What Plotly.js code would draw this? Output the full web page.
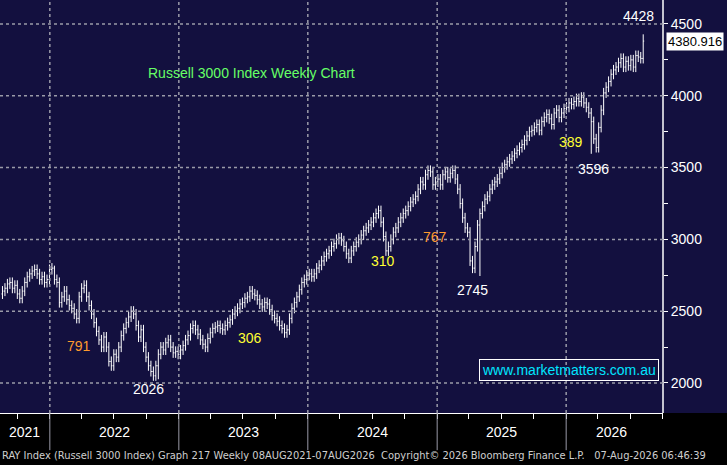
<!DOCTYPE html>
<html>
<head>
<script src="https://cdn.plot.ly/plotly-3.0.1.min.js"></script>
<style>body{margin:0;background:#000}</style>
</head>
<body>
<div id="graph01" style="width:727px;height:465px"></div>
<script>
// weekly closes, Aug 2021 .. Aug 2026
var closes = [
  2640,2660,2690, 2700,2660,2680,2620, 2590,2640,2700,2740,2760, 2780,2790,2760,2720, 2740,2700,2720,2790,2800,
  2720,2700,2560,2600, 2640,2580,2540,2520, 2480,2450,2600,2660, 2680,2600,2540,2480,2420, 2360,2300,2250,2320,
  2250,2150,2120,2200, 2180,2250,2330,2380,2420, 2460,2500,2480,2400, 2320,2370,2250,2180,2120, 2080,2050,2120,2200,
  2250,2230,2280,2300, 2250,2210,2220,2200,2230,
  2260,2300,2330,2380, 2400,2370,2340,2300, 2270,2250,2310,2350,2380, 2390,2400,2380,2370, 2400,2420,2440,2480,
  2500,2520,2550,2560,2590, 2600,2640,2620,2610, 2580,2550,2530,2560, 2550,2510,2470,2450,2430, 2400,2380,2350,2370,
  2450,2520,2560,2600, 2650,2700,2720,2750,2760,
  2740,2760,2800,2820, 2850,2880,2900,2920, 2950,2970,3000,3010,2990, 2950,2900,2870,2920, 2950,2980,3000,3030,
  3060,3080,3100,3120, 3150,3180,3200,3120, 3020,2920,2950,3000,3050, 3080,3120,3150,3180, 3200,3230,3260,3280,
  3300,3350,3400,3380,3450, 3480,3470,3380,3400,
  3420,3380,3450,3470,3430, 3460,3480,3420,3350, 3250,3150,3080,3050, 2850,2800,2950,3100, 3180,3230,3280,3300,3350,
  3380,3400,3420,3460, 3500,3520,3540,3560, 3580,3600,3620,3640,3660, 3690,3720,3750,3760, 3780,3800,3760,3820,3850,
  3870,3840,3800,3880, 3900,3850,3880,3910,
  3920,3950,3940,3960,3980, 3960,3990,3950,3920, 3880,3820,3700,3640, 3780,3900,4020,4060, 4100,4150,4180,4200,4230,
  4260,4200,4240,4210, 4250,4200,4280,4270,4260, 4380.916
];
// known extremes (bar index from end -> value)
var extremeHighs = {0: 4428, 238: 2817};
var extremeLows = {196: 2026, 66: 2745, 21: 3596};
var wick = 35;
var yearLabels = ['2021','2022','2023','2024','2025','2026'];
var yearMid = ['2021-10-20','2022-07-02','2023-07-02','2024-07-02','2025-07-02','2026-05-10'];
var yearStarts = ['2022-01-01','2023-01-01','2024-01-01','2025-01-01','2026-01-01'];

var n = closes.length;
var last = new Date('2026-08-07');
var dates = [], opens = [], highs = [], lows = [];
for (var i = 0; i < n; i++) {
  var d = new Date(last.getTime() - (n - 1 - i) * 7 * 86400000);
  dates.push(d.toISOString().slice(0, 10));
  var o = i > 0 ? closes[i - 1] : closes[0] - 20;
  opens.push(o);
  var back = n - 1 - i;
  highs.push(extremeHighs[back] !== undefined ? extremeHighs[back] : Math.max(o, closes[i]) + wick);
  lows.push(extremeLows[back] !== undefined ? extremeLows[back] : Math.min(o, closes[i]) - wick);
}

var trace = {
  x: dates, open: opens, high: highs, low: lows, close: closes,
  type: 'ohlc',
  increasing: {line: {color: '#ffffff', width: 1}},
  decreasing: {line: {color: '#ffffff', width: 1}},
  tickwidth: 0.4,
  hoverinfo: 'none'
};

var shapes = [
  {type: 'rect', xref: 'paper', yref: 'paper', x0: 0, x1: 1.1, y0: 0, y1: 1, fillcolor: '#13103f', line: {width: 0}, layer: 'below'},
  {type: 'line', xref: 'paper', yref: 'paper', x0: 1, x1: 1, y0: 0, y1: 1, line: {color: '#ffffff', width: 1.5}}
];
yearStarts.forEach(function (s) {
  shapes.push({type: 'line', xref: 'x', yref: 'paper', x0: s, x1: s, y0: 0, y1: 1, line: {color: '#9a9aa8', width: 1.5, dash: 'dot'}});
  shapes.push({type: 'line', xref: 'x', yref: 'paper', x0: s, x1: s, y0: 0, y1: -0.09, line: {color: '#9a9aa8', width: 1}});
});
[2000, 2500, 3000, 3500, 4000, 4500].forEach(function (v) {
  shapes.push({type: 'line', xref: 'paper', yref: 'y', x0: 0, x1: 1, y0: v, y1: v, line: {color: '#9a9aa8', width: 1.5, dash: 'dot'}});
});

var F = 'Liberation Sans';
var ann = [];
yearLabels.forEach(function (t, i) {
  ann.push({x: yearMid[i], y: -0.07, xref: 'x', yref: 'paper', text: t, showarrow: false, font: {color: '#fff', size: 14, family: F}});
});
function lab(x, y, t, c) {
  ann.push({x: x, y: y, xref: 'x', yref: 'y', text: t, showarrow: false, font: {color: c, size: 14, family: F}});
}
lab('2026-07-24', 4555, '4428', '#ffffff');
lab('2022-03-25', 2260, '791', '#ff9a2e');
lab('2022-10-07', 1955, '2026', '#ffffff');
lab('2023-07-21', 2310, '306', '#ffff33');
lab('2024-08-02', 2850, '310', '#ffff33');
lab('2024-12-27', 3020, '767', '#ff9a2e');
lab('2025-04-11', 2645, '2745', '#ffffff');
lab('2026-01-16', 3680, '389', '#ffff33');
lab('2026-03-20', 3490, '3596', '#ffffff');
ann.push({x: 0.38, y: 0.823, xref: 'paper', yref: 'paper', yanchor: 'middle', text: 'Russell 3000 Index Weekly Chart', showarrow: false, font: {color: '#66ff66', size: 14, family: F}});
ann.push({x: 0.858, y: 0.104, xref: 'paper', yref: 'paper', xanchor: 'center', yanchor: 'middle', text: 'www.marketmatters.com.au', showarrow: false,
  font: {color: '#00e5ff', size: 14, family: F}, bordercolor: '#ffffff', borderwidth: 1, borderpad: 2});
ann.push({x: 1.004, y: 4380.916, xref: 'paper', yref: 'y', xanchor: 'left', text: '4380.916', showarrow: false,
  font: {color: '#000', size: 13, family: F}, bgcolor: '#ffffff', borderpad: 1});
ann.push({x: 0, y: -0.083, xref: 'paper', yref: 'paper', xanchor: 'left', yanchor: 'top',
  text: 'RAY Index (Russell 3000 Index) Graph 217 Weekly 08AUG2021-07AUG2026  Copyright\u00a9 2026 Bloomberg Finance L.P.   07-Aug-2026 06:46:39',
  showarrow: false, font: {color: '#cfcfcf', size: 11, family: 'DejaVu Sans Condensed'}});

var layout = {
  width: 727, height: 465,
  margin: {l: 0, r: 64, t: 0, b: 52},
  paper_bgcolor: '#000000', plot_bgcolor: '#13103f',
  showlegend: false,
  font: {family: F, color: '#fff'},
  xaxis: {range: ['2021-08-13', '2026-10-02'], rangeslider: {visible: false}, showgrid: false,
    showticklabels: false, ticks: 'outside', ticklen: 5, tickcolor: '#fff', dtick: 'M3', tick0: '2022-01-01',
    showline: true, linecolor: '#fff', zeroline: false},
  yaxis: {range: [1791, 4667], side: 'right', showgrid: false, zeroline: false,
    tickvals: [2000, 2500, 3000, 3500, 4000, 4500], ticks: 'outside', ticklen: 4, tickcolor: '#fff',
    tickfont: {color: '#fff', size: 14, family: F}, minor: {dtick: 250, ticks: 'outside', ticklen: 4, tickcolor: '#fff'}},
  shapes: shapes,
  annotations: ann
};
Plotly.newPlot('graph01', [trace], layout, {displayModeBar: false});
</script>
</body>
</html>
